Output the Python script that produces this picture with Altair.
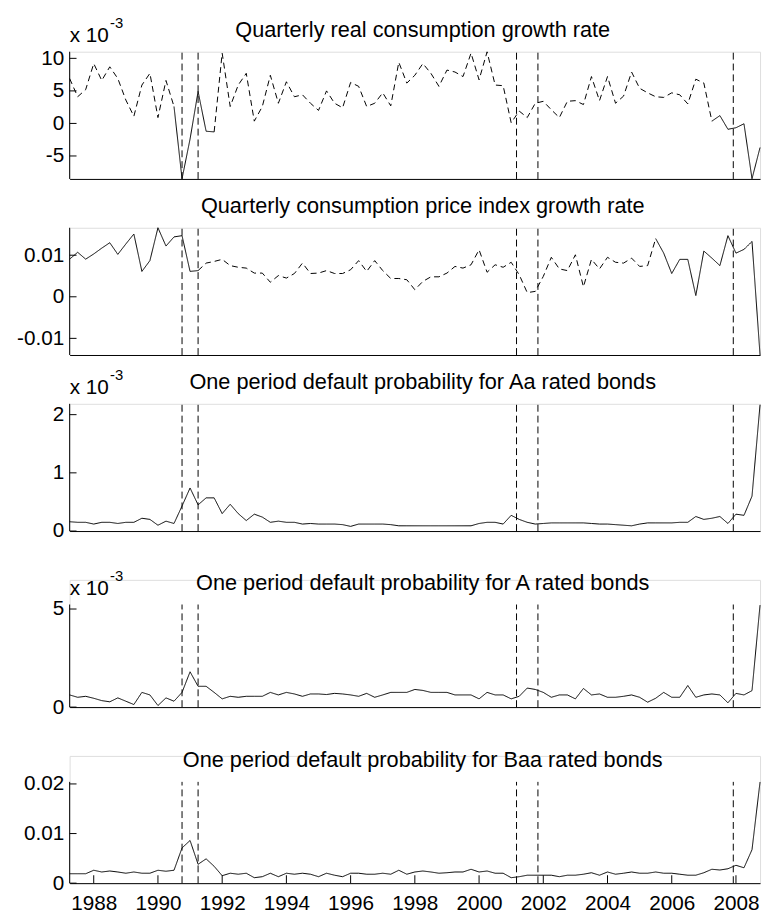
import altair as alt
import pandas as pd

FONT = "Liberation Sans"
W, H = 700, 129
START, STEP = 1987.25, 0.25
X_DOMAIN = [1987.25, 2008.75]

recessions = [1990.75, 1991.25, 2001.1667, 2001.8333, 2007.9167]
year_ticks = list(range(1988, 2010, 2))

titles = [
    "Quarterly real consumption growth rate",
    "Quarterly consumption price index growth rate",
    "One period default probability for Aa rated bonds",
    "One period default probability for A rated bonds",
    "One period default probability for Baa rated bonds",
]

# quarterly, 1987Q2 .. 2008Q4 (x 10^-3)
cons_growth_e3 = [6.9, 4.1, 5.2, 9.2, 6.6, 8.7, 6.9, 3.6, 1.1, 5.9,
                  7.7, 0.9, 6.6, 2.6, -8.5, -2.4, 4.9, -1.2, -1.3, 10.8,
                  2.6, 5.9, 7.7, 0.35, 2.6, 7.4, 3.1, 6.4, 4.1, 4.4,
                  3.1, 2.0, 5.0, 3.1, 2.4, 6.3, 5.7, 2.6, 3.1, 4.7,
                  2.7, 9.4, 6.2, 7.4, 9.2, 7.7, 5.7, 8.2, 7.9, 7.2,
                  10.8, 6.7, 11.0, 5.9, 5.8, 0.1, 1.9, 0.9, 3.1, 3.4,
                  2.1, 0.9, 3.4, 3.5, 2.9, 7.2, 3.5, 7.2, 3.1, 4.2,
                  7.9, 5.4, 4.7, 4.1, 4.0, 4.7, 4.4, 3.0, 6.8, 6.2,
                  0.35, 1.2, -0.9, -0.66, -0.05, -8.5, -3.7]
cons_solid = [(1990.5, 1991.75), (2007.25, 2008.75)]

cpi_growth_e3 = [9.05, 10.7, 9.05, 10.3, 11.7, 13.0, 10.2, 12.7, 15.1, 6.1,
                 8.7, 16.6, 12.2, 14.4, 14.7, 6.1, 6.3, 8.1, 8.5, 9.0,
                 7.5, 7.1, 6.9, 5.7, 5.7, 3.5, 5.1, 4.5, 5.6, 8.1,
                 5.6, 5.7, 6.3, 5.6, 5.6, 6.5, 8.7, 6.1, 8.7, 6.3,
                 4.4, 4.4, 4.1, 1.7, 3.7, 4.8, 4.8, 5.7, 7.3, 6.9,
                 7.7, 11.3, 5.9, 7.7, 7.1, 8.3, 5.3, 1.0, 1.3, 4.9,
                 9.5, 6.7, 6.3, 10.1, 2.4, 9.0, 6.7, 9.5, 8.3, 8.1,
                 9.3, 7.3, 7.5, 14.0, 10.5, 5.6, 9.0, 9.0, 0.3, 11.0,
                 9.3, 7.5, 14.7, 10.5, 11.4, 13.3, -14.0]
cpi_solid = [(1987.25, 1991.25), (2005.5, 2008.75)]

aa_e3 = [0.16, 0.15, 0.15, 0.12, 0.15, 0.15, 0.13, 0.15, 0.15, 0.22,
         0.2, 0.1, 0.17, 0.13, 0.43, 0.74, 0.45, 0.57, 0.57, 0.3,
         0.46, 0.3, 0.18, 0.29, 0.24, 0.15, 0.17, 0.15, 0.15, 0.12,
         0.13, 0.12, 0.12, 0.12, 0.11, 0.08, 0.12, 0.12, 0.12, 0.12,
         0.11, 0.09, 0.09, 0.09, 0.09, 0.09, 0.09, 0.09, 0.09, 0.09,
         0.09, 0.13, 0.15, 0.15, 0.12, 0.27, 0.2, 0.15, 0.12, 0.13,
         0.14, 0.14, 0.14, 0.14, 0.14, 0.13, 0.12, 0.12, 0.11, 0.1,
         0.09, 0.12, 0.14, 0.14, 0.14, 0.14, 0.15, 0.15, 0.25, 0.2,
         0.22, 0.25, 0.13, 0.29, 0.27, 0.6, 2.17]

a_e3 = [0.62, 0.5, 0.55, 0.45, 0.33, 0.27, 0.47, 0.3, 0.13, 0.75,
        0.62, 0.08, 0.47, 0.3, 0.75, 1.8, 1.06, 1.06, 0.75, 0.42,
        0.55, 0.5, 0.55, 0.55, 0.55, 0.75, 0.62, 0.75, 0.67, 0.55,
        0.67, 0.67, 0.64, 0.7, 0.67, 0.62, 0.55, 0.7, 0.5, 0.62,
        0.75, 0.75, 0.75, 0.9, 0.85, 0.75, 0.75, 0.75, 0.62, 0.62,
        0.62, 0.42, 0.75, 0.62, 0.62, 0.42, 0.55, 0.97, 0.9, 0.75,
        0.5, 0.62, 0.62, 0.42, 0.95, 0.62, 0.67, 0.5, 0.5, 0.55,
        0.62, 0.5, 0.25, 0.45, 0.75, 0.5, 0.5, 1.1, 0.5, 0.62,
        0.67, 0.62, 0.22, 0.7, 0.62, 0.84, 5.2]

baa_e3 = [1.9, 1.9, 1.9, 2.6, 2.25, 2.45, 2.25, 2.0, 2.25, 2.0,
          2.0, 2.6, 2.4, 2.6, 7.1, 8.6, 3.8, 4.9, 3.4, 1.5,
          2.0, 1.8, 2.0, 1.1, 1.3, 2.0, 1.3, 2.0, 1.8, 2.0,
          1.8, 1.3, 2.0, 1.6, 1.3, 2.0, 2.0, 1.8, 1.8, 2.0,
          1.8, 2.6, 1.8, 2.25, 2.45, 2.25, 2.0, 2.1, 2.25, 2.25,
          2.8, 2.25, 2.45, 2.0, 2.0, 1.1, 1.3, 1.6, 1.6, 1.6,
          1.6, 1.3, 1.6, 1.6, 1.8, 2.1, 1.6, 2.25, 1.8, 2.0,
          2.25, 2.0, 2.0, 2.25, 2.0, 2.0, 1.8, 1.6, 1.6, 2.1,
          2.8, 2.65, 2.9, 3.6, 3.1, 6.75, 20.4]

ALL = [(START, 2100.0)]


def segment_rows(vals, solid_periods):
    t = [START + STEP * i for i in range(len(vals))]
    flag = [any(a - 1e-6 <= ti <= b + 1e-6 for a, b in solid_periods) for ti in t]
    rows, run, cur = [], 0, None
    for i in range(len(vals) - 1):
        st = "solid" if (flag[i] and flag[i + 1]) else "dashed"
        if st != cur:
            run += 1
            cur = st
            rows.append({"t": t[i], "v": vals[i], "run": run, "style": st})
        rows.append({"t": t[i + 1], "v": vals[i + 1], "run": run, "style": st})
    return pd.DataFrame(rows)


def panel(df, y_domain, vis_top, y_ticks, title, mult, bottom):
    ys = alt.Scale(domain=y_domain, nice=False, zero=False)
    xs = alt.Scale(domain=X_DOMAIN, nice=False, zero=False)
    yaxis = alt.Axis(values=y_ticks, labelExpr="toString(datum.value)", domain=False,
                     ticks=False, tickSize=0, grid=False, title=None, labelFontSize=21,
                     labelFont=FONT, labelColor="black", labelPadding=6,
                     labelFlush=False, labelOverlap=False)
    if bottom:
        xaxis = alt.Axis(values=year_ticks, labelExpr="toString(datum.value)", ticks=False,
                         tickSize=0, grid=False, title=None, domainColor="black",
                         labelFontSize=21, labelFont=FONT, labelColor="black",
                         labelPadding=10, labelFlush=False, labelOverlap=False)
    else:
        xaxis = alt.Axis(labels=False, ticks=False, tickSize=0, grid=False, title=None,
                         domainColor="black")

    def X(f):
        return alt.X(f, type="quantitative", scale=xs, axis=xaxis)

    def Y(f):
        return alt.Y(f, type="quantitative", scale=ys, axis=yaxis)

    def YD(d):
        return alt.YDatum(d, scale=ys, axis=yaxis, type="quantitative")

    lo = y_domain[0]
    rec = alt.Chart(pd.DataFrame({"r": recessions})).mark_rule(
        color="black", strokeWidth=1, strokeDash=[7, 4]
    ).encode(x=X("r"), y=YD(lo), y2=alt.Y2Datum(vis_top))
    yline = alt.Chart(pd.DataFrame({"a": [lo], "b": [vis_top]})).mark_rule(
        color="black", strokeWidth=1
    ).encode(x=alt.value(0), y=Y("a"), y2="b:Q")
    yt = alt.Chart(pd.DataFrame({"tk": y_ticks})).mark_rule(color="black", strokeWidth=1).encode(
        y=Y("tk"), x=alt.value(0), x2=alt.value(7))
    line = alt.Chart(df).mark_line(color="black", strokeWidth=1).encode(
        x=X("t"), y=Y("v"), detail="run:N",
        strokeDash=alt.StrokeDash("style:N", legend=None,
                                  scale=alt.Scale(domain=["solid", "dashed"],
                                                  range=[[1, 0], [6, 4]])))
    ttl = alt.Chart(pd.DataFrame({"s": [title]})).mark_text(
        font=FONT, fontSize=22, align="center", baseline="alphabetic", dy=-15, color="black"
    ).encode(text="s:N", x=alt.value(358), y=YD(vis_top))
    layers = [rec, yline, yt, line, ttl]
    if mult:
        m1 = alt.Chart(pd.DataFrame({"s": ["x 10"]})).mark_text(
            font=FONT, fontSize=21, align="left", baseline="alphabetic", dy=-10, color="black"
        ).encode(text="s:N", x=alt.value(0), y=YD(vis_top))
        m2 = alt.Chart(pd.DataFrame({"s": ["-3"]})).mark_text(
            font=FONT, fontSize=15, align="left", baseline="alphabetic", dy=-24, color="black"
        ).encode(text="s:N", x=alt.value(41), y=YD(vis_top))
        layers += [m1, m2]
    if bottom:
        xt = alt.Chart(pd.DataFrame({"yr": year_ticks})).mark_rule(color="black", strokeWidth=1).encode(
            x=X("yr"), y=alt.value(H), y2=alt.value(H - 8))
        layers.append(xt)
    return alt.layer(*layers).properties(width=W, height=H)


p1 = panel(segment_rows(cons_growth_e3, cons_solid), [-8.53, 11.02], 11.02,
           [-5, 0, 5, 10], titles[0], True, False)
p2 = panel(segment_rows([v / 1000 for v in cpi_growth_e3], cpi_solid), [-0.0140, 0.0166], 0.0166,
           [-0.01, 0, 0.01], titles[1], False, False)
p3 = panel(segment_rows(aa_e3, ALL), [0, 2.186], 2.186, [0, 1, 2], titles[2], True, False)
p4 = panel(segment_rows(a_e3, ALL), [0, 6.486], 5.23, [0, 5], titles[3], True, False)
p5 = panel(segment_rows([v / 1000 for v in baa_e3], ALL), [0, 0.02565], 0.02042,
           [0, 0.01, 0.02], titles[4], False, True)

chart = alt.vconcat(p1, p2, p3, p4, p5, spacing=49.5, bounds="flush").properties(
    padding={"left": 7.5, "top": 1, "right": 0, "bottom": -4}
).configure_view(stroke=None).configure(font=FONT)

chart.save("out.html", embed_options={"renderer": "svg", "actions": False})
